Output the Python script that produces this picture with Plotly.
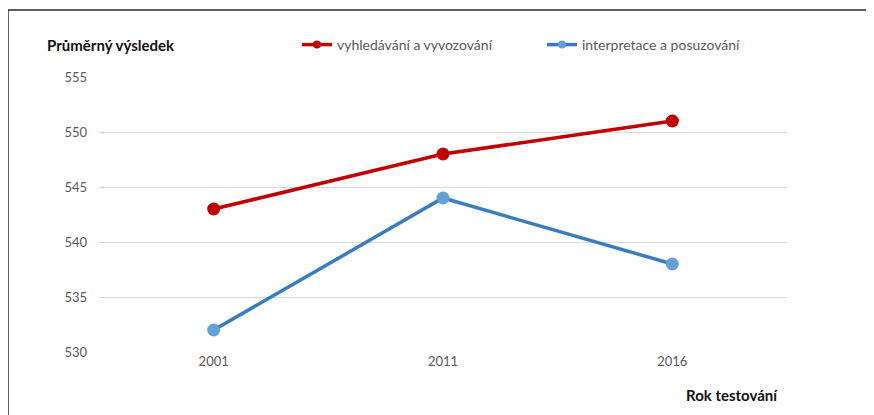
import plotly.graph_objects as go

roky = ["2001", "2011", "2016"]
vyhledavani = [543, 548, 551]
interpretace = [532, 544, 538]
y_ticks = [530, 535, 540, 545, 550, 555]

FONT = "Lato"
GRAY = "#595959"
RED = "#C00000"
BLUE_LINE = "#3A7CC0"
BLUE_MARK = "#64A0D8"

fig = go.Figure()
fig.add_trace(go.Scatter(x=roky, y=vyhledavani, mode="lines+markers",
                         name="vyhledávání a vyvozování", showlegend=False,
                         line=dict(color=RED, width=3.5),
                         marker=dict(color=RED, size=13)))
fig.add_trace(go.Scatter(x=roky, y=interpretace, mode="lines+markers",
                         name="interpretace a posuzování", showlegend=False,
                         line=dict(color=BLUE_LINE, width=3.5),
                         marker=dict(color=BLUE_MARK, size=13)))

# položky legendy s menšími značkami
fig.add_trace(go.Scatter(x=[None], y=[None], mode="lines+markers",
                         name="vyhledávání a vyvozování",
                         line=dict(color=RED, width=3.5),
                         marker=dict(color=RED, size=8)))
fig.add_trace(go.Scatter(x=[None], y=[None], mode="lines+markers",
                         name="interpretace a posuzování",
                         line=dict(color=BLUE_LINE, width=3.5),
                         marker=dict(color=BLUE_MARK, size=8)))

# stránka má výchozí okraj 8 px, proto je graf posunutý vlevo nahoru
fig.update_layout(
    width=874, height=415,
    margin=dict(l=91, r=95, t=69, b=71, autoexpand=False),
    paper_bgcolor="white", plot_bgcolor="white",
    font=dict(family=FONT, size=13, color=GRAY),
    showlegend=True,
    legend=dict(orientation="h", x=0.2878, y=1.1164, xanchor="left", yanchor="middle",
                font=dict(family=FONT, size=14, color=GRAY),
                entrywidth=200, entrywidthmode="pixels",
                itemwidth=30, tracegroupgap=0, bgcolor="rgba(0,0,0,0)"),
    xaxis=dict(type="category", range=[-0.5, 2.5], showgrid=False, showline=False,
               ticks="", automargin=False, tickfont=dict(size=13, color=GRAY)),
    yaxis=dict(range=[530, 555], tickvals=y_ticks, showgrid=True, gridcolor="#D9D9D9",
               gridwidth=1, zeroline=False, showline=False, ticks="", automargin=False,
               ticklabelstandoff=11, tickfont=dict(size=13, color=GRAY)),
)

# popisky os
fig.add_annotation(text="<b>Průměrný výsledek</b>", xref="paper", yref="paper",
                   x=-0.0785, y=1.1164, xanchor="left", yanchor="middle", showarrow=False,
                   font=dict(family=FONT, size=15, color="#111111"))
fig.add_annotation(text="<b>Rok testování</b>", xref="paper", yref="paper",
                   x=0.9898, y=-0.156, xanchor="right", yanchor="middle", showarrow=False,
                   font=dict(family=FONT, size=15, color="#111111"))

# rámeček
fig.add_shape(type="line", xref="paper", yref="paper", x0=-0.1323, x1=1.14,
              y0=1.2436, y1=1.2436, line=dict(color="#262626", width=1.5))
fig.add_shape(type="line", xref="paper", yref="paper", x0=-0.1323, x1=-0.1323,
              y0=1.2436, y1=-0.3, line=dict(color="#262626", width=1.5))

fig.write_html("out.html")
